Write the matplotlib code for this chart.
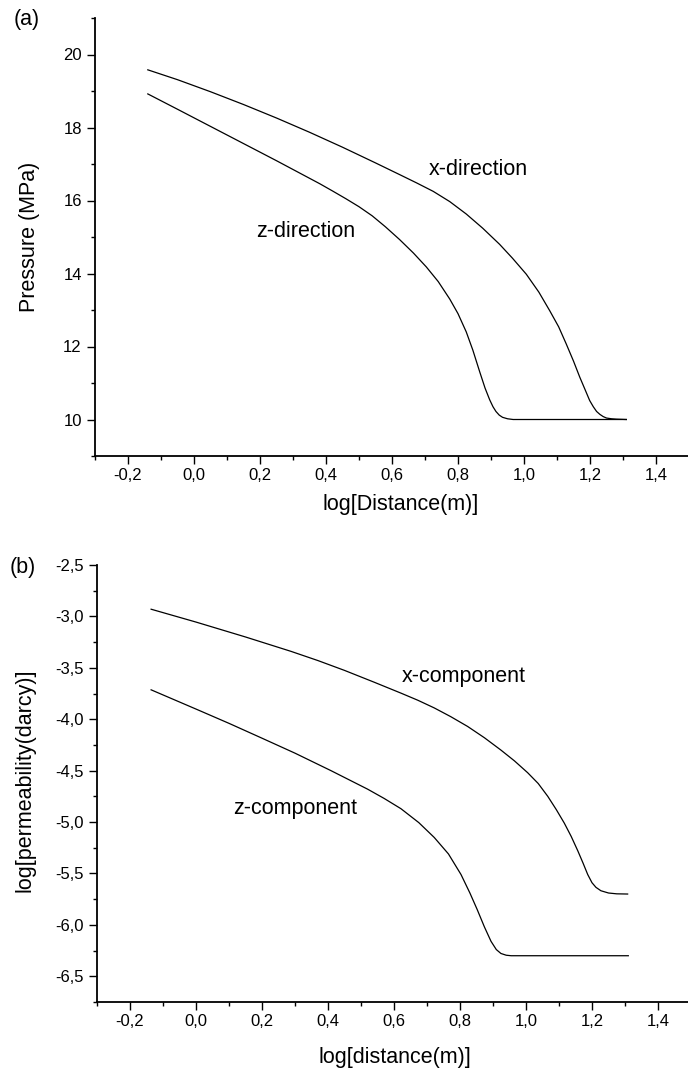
import matplotlib
matplotlib.use('Agg')
import matplotlib.pyplot as plt
from matplotlib.ticker import MultipleLocator, FuncFormatter

plt.rcParams['font.family'] = ['Liberation Sans', 'DejaVu Sans']
plt.rcParams['axes.unicode_minus'] = False

# (a) pressure profiles
xdir_x = [-0.14, -0.05, 0.05, 0.15, 0.25, 0.35, 0.45, 0.55, 0.623, 0.675,
          0.725, 0.775, 0.825, 0.875, 0.926, 0.965, 1.007, 1.045, 1.078,
          1.105, 1.128, 1.15, 1.169, 1.185, 1.199, 1.21, 1.22, 1.23, 1.24,
          1.25, 1.265, 1.28, 1.31]
xdir_p = [19.58, 19.31, 18.98, 18.63, 18.26, 17.87, 17.46, 17.03, 16.71,
          16.48, 16.25, 15.97, 15.63, 15.24, 14.80, 14.42, 13.98, 13.49,
          12.98, 12.54, 12.07, 11.60, 11.16, 10.82, 10.52, 10.35, 10.22,
          10.14, 10.08, 10.04, 10.02, 10.01, 10.0]
zdir_x = [-0.14, -0.05, 0.05, 0.133, 0.25, 0.381, 0.42, 0.46, 0.50, 0.54,
          0.58, 0.623, 0.665, 0.704, 0.74, 0.775, 0.80, 0.825, 0.845, 0.866,
          0.882, 0.896, 0.906, 0.915, 0.925, 0.935, 0.95, 0.967, 1.31]
zdir_p = [18.92, 18.50, 18.03, 17.64, 17.09, 16.46, 16.26, 16.05, 15.83,
          15.58, 15.28, 14.93, 14.56, 14.18, 13.78, 13.30, 12.90, 12.40,
          11.90, 11.30, 10.86, 10.54, 10.35, 10.22, 10.12, 10.06, 10.02,
          10.0, 10.0]

# (b) permeability profiles
xcomp_x = [-0.136, 0.0, 0.15, 0.288, 0.37, 0.45, 0.54, 0.621, 0.672, 0.722,
           0.772, 0.823, 0.874, 0.924, 0.965, 1.005, 1.037, 1.066, 1.092,
           1.116, 1.137, 1.157, 1.173, 1.187, 1.20, 1.212, 1.227, 1.25,
           1.275, 1.308]
xcomp_k = [-2.93, -3.055, -3.20, -3.34, -3.43, -3.525, -3.64, -3.746, -3.815,
           -3.89, -3.975, -4.07, -4.18, -4.30, -4.405, -4.52, -4.625, -4.75,
           -4.88, -5.01, -5.14, -5.28, -5.40, -5.51, -5.59, -5.635, -5.668,
           -5.69, -5.698, -5.70]
zcomp_x = [-0.136, 0.005, 0.10, 0.197, 0.30, 0.409, 0.52, 0.57, 0.621, 0.675,
           0.722, 0.765, 0.803, 0.83, 0.852, 0.874, 0.894, 0.91, 0.924, 0.94,
           0.955, 1.31]
zcomp_k = [-3.714, -3.908, -4.04, -4.18, -4.33, -4.50, -4.68, -4.77, -4.87,
           -5.005, -5.15, -5.31, -5.51, -5.69, -5.85, -6.02, -6.16, -6.24,
           -6.278, -6.295, -6.30, -6.30]

W, H = 688, 1072
fig = plt.figure(figsize=(W / 100, H / 100), dpi=100)

def comma(fmt):
    return FuncFormatter(lambda v, p: (fmt % v).replace('.', ','))

def style(ax, ymaj, ymin, yfmt):
    for s in ['top', 'right']:
        ax.spines[s].set_visible(False)
    for s in ['left', 'bottom']:
        ax.spines[s].set_linewidth(1.3)
    ax.xaxis.set_major_locator(MultipleLocator(0.2))
    ax.xaxis.set_minor_locator(MultipleLocator(0.1))
    ax.yaxis.set_major_locator(MultipleLocator(ymaj))
    ax.yaxis.set_minor_locator(MultipleLocator(ymin))
    ax.xaxis.set_major_formatter(comma('%.1f'))
    ax.yaxis.set_major_formatter(comma(yfmt))
    ax.tick_params(which='major', direction='out', length=5.5, width=1.0,
                   labelsize=12)
    ax.tick_params(which='minor', direction='out', length=3, width=1.0)
    ax.tick_params(axis='y', which='major', pad=4)
    ax.tick_params(axis='x', which='major', pad=3)

# panel (a)
ax1 = fig.add_axes([95 / W, 1 - 456 / H, 594 / W, 438 / H])
ax1.plot(xdir_x, xdir_p, color='black', lw=0.9)
ax1.plot(zdir_x, zdir_p, color='black', lw=0.9)
ax1.set_xlim(-0.3, 1.5)
ax1.set_ylim(9, 21)
style(ax1, 2, 1, '%d')
ax1.set_xlabel('log[Distance(m)]', fontsize=15.5, va='center')
ax1.xaxis.set_label_coords(0.514, -0.11)
ax1.set_ylabel('Pressure (MPa)', fontsize=15.5, va='center')
ax1.yaxis.set_label_coords(-0.11, 0.5)
ax1.text(0.862, 16.85, 'x-direction', fontsize=15.5, ha='center', va='center')
ax1.text(0.338, 15.15, 'z-direction', fontsize=15.5, ha='center', va='center')

# panel (b)
ax2 = fig.add_axes([97 / W, 1 - 1002 / H, 594 / W, 437 / H])
ax2.plot(xcomp_x, xcomp_k, color='black', lw=0.9)
ax2.plot(zcomp_x, zcomp_k, color='black', lw=0.9)
ax2.set_xlim(-0.3, 1.5)
ax2.set_ylim(-6.75, -2.5)
style(ax2, 0.5, 0.25, '%.1f')
ax2.set_xlabel('log[distance(m)]', fontsize=15.5, va='center')
ax2.xaxis.set_label_coords(0.502, -0.126)
ax2.set_ylabel('log[permeability(darcy)]', fontsize=15.5, va='center')
ax2.yaxis.set_label_coords(-0.122, 0.508)
ax2.text(0.81, -3.585, 'x-component', fontsize=15.5, ha='center', va='center')
ax2.text(0.30, -4.87, 'z-component', fontsize=15.5, ha='center', va='center')

fig.text(27 / W, 1 - 20 / H, '(a)', fontsize=15.5, ha='center', va='center')
fig.text(23 / W, 1 - 567 / H, '(b)', fontsize=15.5, ha='center', va='center')

fig.savefig('out.png', dpi=100)
